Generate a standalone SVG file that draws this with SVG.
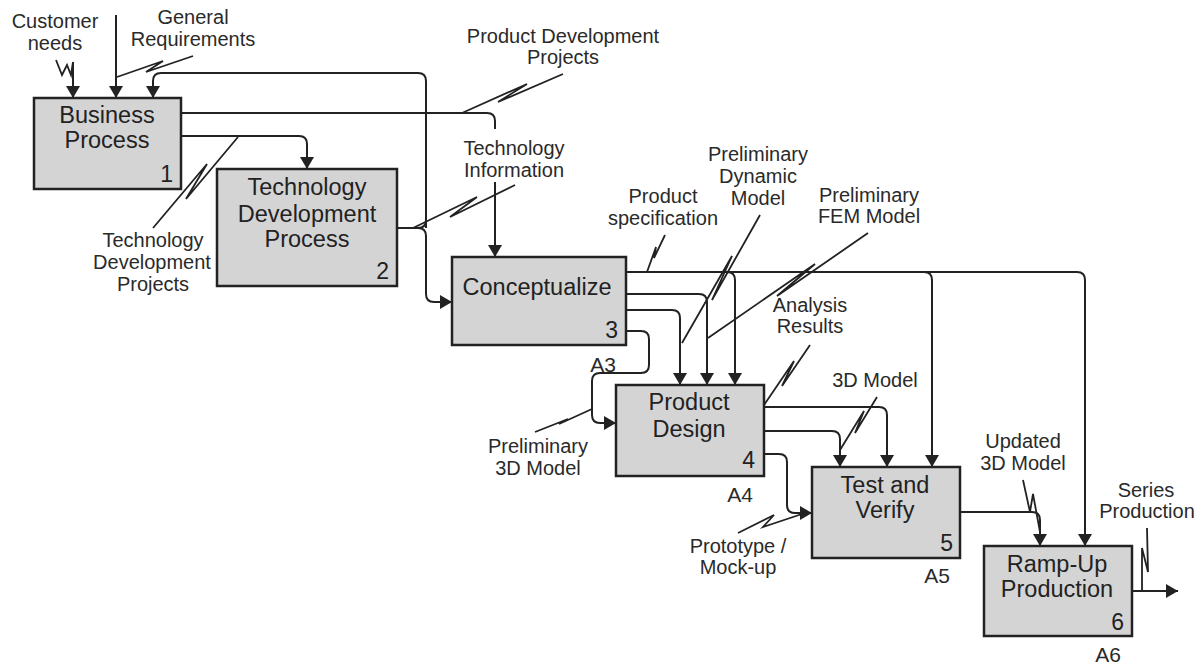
<svg xmlns="http://www.w3.org/2000/svg" width="1200" height="664" viewBox="0 0 1200 664">
<style>
.box{fill:#d4d4d4;stroke:#222;stroke-width:2.5}
.bt{font-family:"Liberation Sans",Arial,sans-serif;font-size:23.5px;fill:#222;text-anchor:middle}
.num{font-family:"Liberation Sans",Arial,sans-serif;font-size:23px;fill:#222;text-anchor:end}
.lb{font-family:"Liberation Sans",Arial,sans-serif;font-size:20px;fill:#2a2a2a;text-anchor:middle}
.c{fill:none;stroke:#222;stroke-width:2}
.ld{fill:none;stroke:#222;stroke-width:1.8;stroke-linejoin:miter}
</style>
<defs>
<marker id="ah" markerUnits="userSpaceOnUse" markerWidth="14" markerHeight="14" refX="12" refY="7" orient="auto">
<path d="M0,0 L12,7 L0,14 z" fill="#222"/>
</marker>
</defs>
<rect width="1200" height="664" fill="#fff"/>

<g id="connectors">
<!-- inputs to Business Process -->
<path class="c" d="M73,62 V98" marker-end="url(#ah)"/>
<path class="c" d="M116,15 V98" marker-end="url(#ah)"/>
<!-- feedback loop from TDP output to Business Process -->
<path class="c" d="M426,228 V81 Q426,73 418,73 H161 Q153,73 153,81 V98" marker-end="url(#ah)"/>
<!-- TDP output junction and down to Conceptualize -->
<path class="c" d="M397,228 H418 Q426,228 426,220"/>
<path class="c" d="M418,228 Q426,228 426,236 V294 Q426,302 434,302 H452" marker-end="url(#ah)"/>
<!-- BP outputs -->
<path class="c" d="M181,113 H487 Q495,113 495,121 V129 M495,182 V257" marker-end="url(#ah)"/>
<path class="c" d="M181,136 H299 Q307,136 307,144 V169" marker-end="url(#ah)"/>
<!-- Conceptualize outputs -->
<path class="c" d="M626,272 H1077 Q1085,272 1085,280 V546" marker-end="url(#ah)"/>
<path class="c" d="M727,272 Q735,272 735,280 V385" marker-end="url(#ah)"/>
<path class="c" d="M924,272 Q932,272 932,280 V467" marker-end="url(#ah)"/>
<path class="c" d="M626,294 H699 Q707,294 707,302 V385" marker-end="url(#ah)"/>
<path class="c" d="M626,310 H672 Q680,310 680,318 V385" marker-end="url(#ah)"/>
<path class="c" d="M626,331 H641 Q649,331 649,339 V365 Q649,373 641,373 H600 Q592,373 592,381 V415 Q592,423 600,423 H616" marker-end="url(#ah)"/>
<!-- Product Design outputs -->
<path class="c" d="M764,407 H879 Q887,407 887,415 V467" marker-end="url(#ah)"/>
<path class="c" d="M764,431 H832 Q840,431 840,439 V467" marker-end="url(#ah)"/>
<path class="c" d="M764,454 H779 Q787,454 787,462 V505 Q787,513 795,513 H812" marker-end="url(#ah)"/>
<!-- Test and Verify output -->
<path class="c" d="M960,512 H1032 Q1040,512 1040,520 V546" marker-end="url(#ah)"/>
<!-- Ramp-Up output -->
<path class="c" d="M1132,591 H1178" marker-end="url(#ah)"/>

<!-- label leaders (squiggles) -->
<path class="ld" d="M56,60 L62,75 L67,65 L71,75 L73,62"/>
<path class="ld" d="M117,77 L163,61 L146,72 L193,56"/>
<path class="ld" d="M462,113 L527,84 L498,102 L563,74"/>
<path class="ld" d="M238,137 L186,199 L207,164 L153,228"/>
<path class="ld" d="M413,228 L477,197 L450,217 L515,185"/>
<path class="ld" d="M647,272 L656,247 L654,258 L665,235"/>
<path class="ld" d="M760,215 L712,300 L732,256 L682,343"/>
<path class="ld" d="M868,233 L777,296 L815,264 L708,338"/>
<path class="ld" d="M810,345 L782,386 L794,361 L764,405"/>
<path class="ld" d="M535,432 L568,419 L559,424 L592,409"/>
<path class="ld" d="M877,397 L855,433 L864,411 L840,450"/>
<path class="ld" d="M738,533 L774,515 L763,527 L808,512"/>
<path class="ld" d="M1023,480 L1030,512 L1033,494 L1040,532"/>
<path class="ld" d="M1147,528 L1148,572 L1142,548 L1142,591"/>
</g>

<g id="labels">
<text class="lb" x="55" y="28">Customer</text>
<text class="lb" x="55" y="50">needs</text>
<text class="lb" x="193" y="24">General</text>
<text class="lb" x="193" y="46">Requirements</text>
<text class="lb" x="563" y="43">Product Development</text>
<text class="lb" x="563" y="64">Projects</text>
<text class="lb" x="514" y="155">Technology</text>
<text class="lb" x="514" y="177">Information</text>
<text class="lb" x="153" y="247">Technology</text>
<text class="lb" x="152" y="269">Development</text>
<text class="lb" x="153" y="291">Projects</text>
<text class="lb" x="663" y="203">Product</text>
<text class="lb" x="663" y="225">specification</text>
<text class="lb" x="758" y="161">Preliminary</text>
<text class="lb" x="758" y="183">Dynamic</text>
<text class="lb" x="758" y="205">Model</text>
<text class="lb" x="869" y="202">Preliminary</text>
<text class="lb" x="869" y="223">FEM Model</text>
<text class="lb" x="810" y="312">Analysis</text>
<text class="lb" x="810" y="333">Results</text>
<text class="lb" x="875" y="387">3D Model</text>
<text class="lb" x="538" y="453">Preliminary</text>
<text class="lb" x="538" y="475">3D Model</text>
<text class="lb" x="738" y="553">Prototype /</text>
<text class="lb" x="738" y="574">Mock-up</text>
<text class="lb" x="1023" y="448">Updated</text>
<text class="lb" x="1023" y="470">3D Model</text>
<text class="lb" x="1146" y="497">Series</text>
<text class="lb" x="1147" y="518">Production</text>
</g>

<g id="node1">
<rect class="box" x="34" y="98" width="147" height="91"/>
<text class="bt" x="107" y="123">Business</text>
<text class="bt" x="107" y="148">Process</text>
<text class="num" x="173" y="182">1</text>
</g>
<g id="node2">
<rect class="box" x="217" y="169" width="180" height="117"/>
<text class="bt" x="307" y="195">Technology</text>
<text class="bt" x="307" y="222">Development</text>
<text class="bt" x="307" y="247">Process</text>
<text class="num" x="389" y="279">2</text>
</g>
<g id="node3">
<rect class="box" x="452" y="257" width="174" height="88"/>
<text class="bt" x="537" y="295">Conceptualize</text>
<text class="num" x="618" y="338">3</text>
<text class="lb" x="603" y="372" style="font-size:21px">A3</text>
</g>
<g id="node4">
<rect class="box" x="616" y="385" width="148" height="91"/>
<text class="bt" x="689" y="410">Product</text>
<text class="bt" x="689" y="437">Design</text>
<text class="num" x="755" y="468">4</text>
<text class="lb" x="740" y="502" style="font-size:21px">A4</text>
</g>
<g id="node5">
<rect class="box" x="812" y="467" width="148" height="91"/>
<text class="bt" x="885" y="493">Test and</text>
<text class="bt" x="885" y="518">Verify</text>
<text class="num" x="953" y="551">5</text>
<text class="lb" x="937" y="583" style="font-size:21px">A5</text>
</g>
<g id="node6">
<rect class="box" x="984" y="546" width="148" height="90"/>
<text class="bt" x="1057" y="572">Ramp-Up</text>
<text class="bt" x="1057" y="597">Production</text>
<text class="num" x="1124" y="630">6</text>
<text class="lb" x="1108" y="662" style="font-size:21px">A6</text>
</g>
</svg>
